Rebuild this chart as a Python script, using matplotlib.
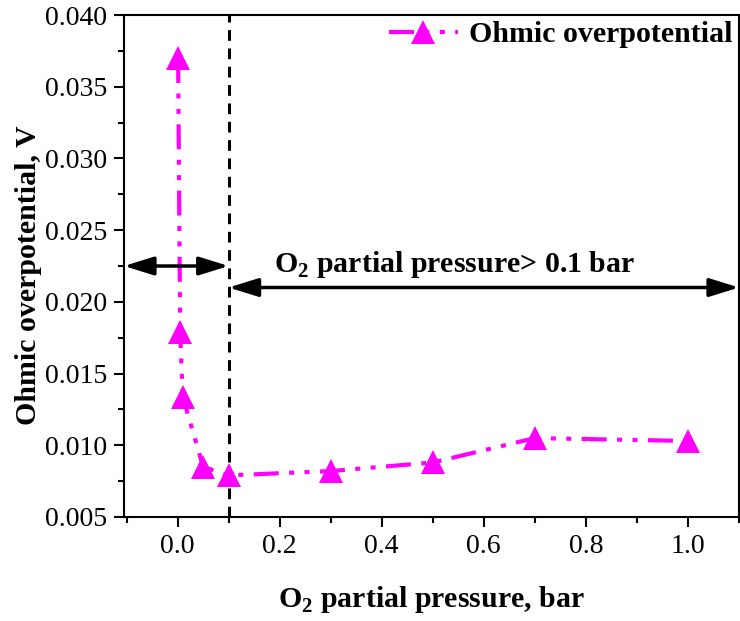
import matplotlib
matplotlib.use('Agg')
import matplotlib.pyplot as plt
from matplotlib.ticker import MultipleLocator

# Data
o2_pressure = [0.001, 0.005, 0.01, 0.05, 0.1, 0.3, 0.5, 0.7, 1.0]
ohmic_v = [0.0370, 0.0179, 0.0134, 0.0085, 0.0079, 0.0082, 0.0088, 0.0105, 0.0103]

boundary_x = 0.1
arrow_left_y = 0.0225
arrow_right_y = 0.021
xlim = (-0.105, 1.1)
ylim = (0.005, 0.040)

plt.rcParams['font.family'] = ['Liberation Serif', 'DejaVu Serif']
plt.rcParams['mathtext.fontset'] = 'custom'
plt.rcParams['mathtext.rm'] = 'Liberation Serif'
plt.rcParams['mathtext.bf'] = 'Liberation Serif:bold'

fig = plt.figure(figsize=(7.4, 6.21), dpi=100)
ax = fig.add_axes([0.1676, 0.1675, 0.831, 0.8083])

line, = ax.plot(o2_pressure, ohmic_v, color='#FF00FF', lw=3, marker='^',
                markersize=17, markeredgewidth=0, label='Ohmic overpotential')
line.set_dashes([6, 2.5, 1.2, 2.5, 1.2, 2.5])

ax.axvline(boundary_x, color='black', lw=2.2, ls=(0, (3.5, 2.5)), zorder=1)

arrow_style = '<|-|>,head_length=0.9,head_width=0.28'
ax.annotate('', xy=(xlim[0], arrow_left_y), xytext=(boundary_x, arrow_left_y),
            arrowprops=dict(arrowstyle=arrow_style, color='black', lw=2.5,
                            mutation_scale=20, shrinkA=0, shrinkB=0))
ax.annotate('', xy=(boundary_x, arrow_right_y), xytext=(xlim[1], arrow_right_y),
            arrowprops=dict(arrowstyle=arrow_style, color='black', lw=2.5,
                            mutation_scale=20, shrinkA=0, shrinkB=0))
ax.text(0.542, 0.0221, r'O$_\mathbf{2}$ partial pressure> 0.1 bar', ha='center',
        va='baseline', fontsize=21.5, fontweight='bold')

ax.set_xlim(*xlim)
ax.set_ylim(*ylim)
ax.xaxis.set_major_locator(MultipleLocator(0.2))
ax.xaxis.set_minor_locator(MultipleLocator(0.1))
ax.yaxis.set_major_locator(MultipleLocator(0.005))
ax.yaxis.set_minor_locator(MultipleLocator(0.0025))
ax.xaxis.set_major_formatter(plt.FuncFormatter(lambda v, p: '%.1f' % v))
ax.yaxis.set_major_formatter(plt.FuncFormatter(lambda v, p: '%.3f' % v))

ax.tick_params(which='both', direction='out', width=1.5, labelsize=20,
               top=False, right=False)
ax.tick_params(which='major', length=7, pad=5)
ax.tick_params(which='minor', length=4)
for sp in ax.spines.values():
    sp.set_linewidth(1.5)

ax.set_xlabel(r'O$_\mathbf{2}$ partial pressure, bar', fontsize=21.5,
              fontweight='bold', labelpad=18)
ax.set_ylabel('Ohmic overpotential, V', fontsize=21.5, fontweight='bold')
ax.yaxis.set_label_coords(-0.134, 0.482)

leg = ax.legend(loc='upper right', frameon=False, handlelength=2.3,
                handletextpad=0.4, borderaxespad=0, borderpad=0.2,
                prop={'weight': 'bold', 'size': 21.5})

fig.savefig('out.png', dpi=100)
